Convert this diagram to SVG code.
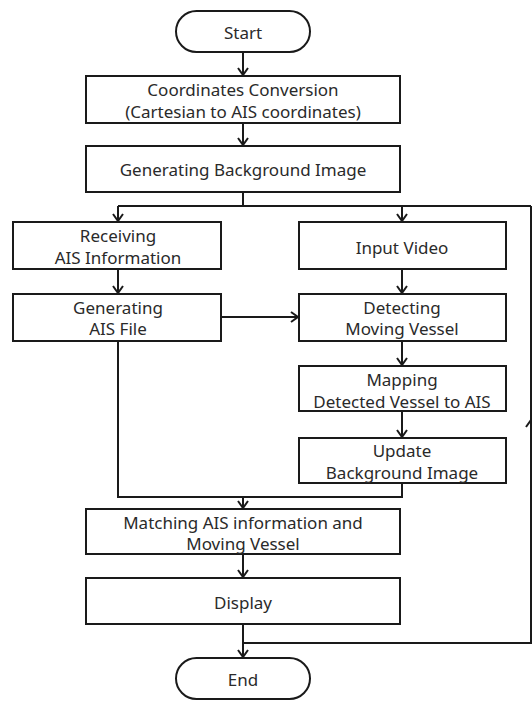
<svg xmlns="http://www.w3.org/2000/svg" width="532" height="702" viewBox="0 0 532 702">
  <style>
    .box { fill: #ffffff; stroke: #1a1a1a; stroke-width: 2; }
    .lbl { font-family: "Noto Sans", "Open Sans", sans-serif; font-size: 17px; fill: #2a2a2a; text-anchor: middle; dominant-baseline: central; }
    .wire { fill: none; stroke: #1a1a1a; stroke-width: 2; }
  </style>
  <defs>
    <marker id="arrow" markerUnits="userSpaceOnUse" markerWidth="14" markerHeight="14" refX="9" refY="6" orient="auto">
      <path d="M2,1 L9,6 L2,11" fill="none" stroke="#1a1a1a" stroke-width="2"/>
    </marker>
  </defs>
  <rect width="532" height="702" fill="#ffffff"/>

  <g id="connectors">
    <path class="wire" d="M243,52 V75" marker-end="url(#arrow)"/>
    <path class="wire" d="M243,123 V145" marker-end="url(#arrow)"/>
    <path class="wire" d="M243,192 V206"/>
    <path class="wire" d="M118,206 H531"/>
    <path class="wire" d="M118,206 V221" marker-end="url(#arrow)"/>
    <path class="wire" d="M402,206 V221" marker-end="url(#arrow)"/>
    <path class="wire" d="M118,269 V293" marker-end="url(#arrow)"/>
    <path class="wire" d="M402,269 V293" marker-end="url(#arrow)"/>
    <path class="wire" d="M221,317 H298" marker-end="url(#arrow)"/>
    <path class="wire" d="M402,341 V365" marker-end="url(#arrow)"/>
    <path class="wire" d="M402,411 V437" marker-end="url(#arrow)"/>
    <path class="wire" d="M118,341 V497 H402 V483"/>
    <path class="wire" d="M243,497 V508" marker-end="url(#arrow)"/>
    <path class="wire" d="M243,554 V577" marker-end="url(#arrow)"/>
    <path class="wire" d="M243,624 V657" marker-end="url(#arrow)"/>
    <path class="wire" d="M243,643 H531 V206"/>
    <path class="wire" d="M531,440 V420" marker-end="url(#arrow)"/>
  </g>

  <g id="start">
    <rect class="box" x="176" y="11" width="134" height="41" rx="20.5"/>
    <text class="lbl" x="243" y="32">Start</text>
  </g>
  <g id="coord-conversion">
    <rect class="box" x="86" y="76" width="314" height="47"/>
    <text class="lbl" x="243" y="89">Coordinates Conversion</text>
    <text class="lbl" x="243" y="111">(Cartesian to AIS coordinates)</text>
  </g>
  <g id="gen-background">
    <rect class="box" x="86" y="146" width="314" height="46"/>
    <text class="lbl" x="243" y="169">Generating Background Image</text>
  </g>
  <g id="receiving-ais">
    <rect class="box" x="13" y="222" width="208" height="47"/>
    <text class="lbl" x="118" y="235">Receiving</text>
    <text class="lbl" x="118" y="257">AIS Information</text>
  </g>
  <g id="input-video">
    <rect class="box" x="299" y="222" width="207" height="47"/>
    <text class="lbl" x="402" y="247">Input Video</text>
  </g>
  <g id="gen-ais-file">
    <rect class="box" x="13" y="294" width="208" height="47"/>
    <text class="lbl" x="118" y="307">Generating</text>
    <text class="lbl" x="118" y="328">AIS File</text>
  </g>
  <g id="detecting">
    <rect class="box" x="299" y="294" width="207" height="47"/>
    <text class="lbl" x="402" y="307">Detecting</text>
    <text class="lbl" x="402" y="328">Moving Vessel</text>
  </g>
  <g id="mapping">
    <rect class="box" x="299" y="366" width="207" height="45"/>
    <text class="lbl" x="402" y="379">Mapping</text>
    <text class="lbl" x="402" y="401">Detected Vessel to AIS</text>
  </g>
  <g id="update-background">
    <rect class="box" x="299" y="438" width="207" height="45"/>
    <text class="lbl" x="402" y="450">Update</text>
    <text class="lbl" x="402" y="472">Background Image</text>
  </g>
  <g id="matching">
    <rect class="box" x="86" y="509" width="314" height="45"/>
    <text class="lbl" x="243" y="522">Matching AIS information and</text>
    <text class="lbl" x="243" y="543">Moving Vessel</text>
  </g>
  <g id="display">
    <rect class="box" x="86" y="578" width="314" height="46"/>
    <text class="lbl" x="243" y="602">Display</text>
  </g>
  <g id="end">
    <rect class="box" x="176" y="658" width="134" height="41" rx="20.5"/>
    <text class="lbl" x="243" y="679">End</text>
  </g>
</svg>
